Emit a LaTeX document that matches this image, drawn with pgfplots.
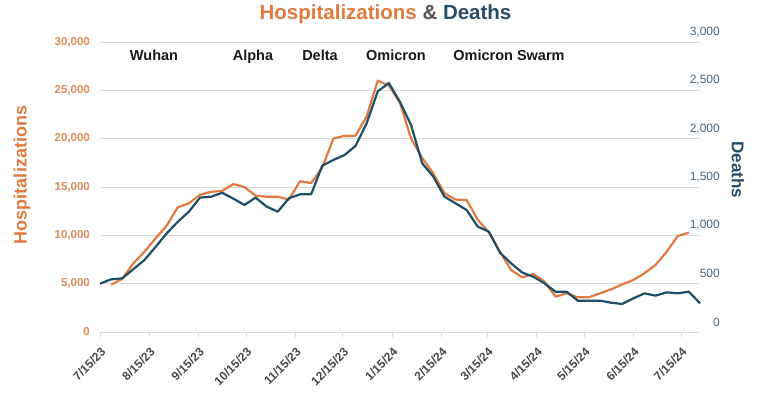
\documentclass[border=0pt]{standalone}
\usepackage{fontspec}
\setmainfont{Liberation Sans}
\usepackage{pgfplots}
\pgfplotsset{compat=1.18}
\usepackage{pgfplotstable}
\definecolor{hosp}{RGB}{224,122,63}
\definecolor{hosplab}{RGB}{217,138,92}
\definecolor{death}{RGB}{31,78,104}
\definecolor{deathtitle}{RGB}{43,76,102}
\definecolor{deathlab}{RGB}{77,100,120}
\definecolor{gridc}{RGB}{217,217,217}
\definecolor{amp}{RGB}{85,85,85}

\pgfplotstableread{
day deaths
0 500
7 545
14 555
21 650
28 745
35 880
42 1020
49 1140
56 1245
63 1390
70 1400
77 1440
84 1380
91 1314
98 1390
105 1297
112 1245
119 1383
126 1424
133 1424
140 1720
147 1780
154 1830
161 1925
168 2160
175 2490
182 2575
189 2380
196 2140
203 1745
210 1607
217 1400
224 1331
231 1262
238 1090
245 1038
252 820
259 710
266 615
273 572
280 503
287 417
294 417
301 324
308 324
315 324
322 303
329 290
336 348
343 400
350 376
357 410
364 400
371 417
378 297
}\deathtab

\pgfplotstableread{
day hosp
7 4900
14 5500
21 7100
28 8300
35 9690
42 11000
49 12900
56 13310
63 14200
70 14500
77 14600
84 15300
91 15000
98 14100
105 14000
112 14000
119 13700
126 15600
133 15400
140 17000
147 20000
154 20300
161 20300
168 22300
175 26000
182 25500
189 23700
196 20000
203 18000
210 16400
217 14350
224 13700
231 13650
238 11600
245 10300
252 8310
259 6414
266 5650
273 6000
280 5207
287 3655
294 4000
301 3586
308 3586
315 4000
322 4414
329 4931
336 5379
343 6069
350 6931
357 8310
364 9931
371 10276
}\hosptab

\begin{document}
\begin{tikzpicture}[x=1pt,y=1pt]
\useasboundingbox (0,0) rectangle (769,397);
\begin{axis}[
  at={(100pt,65pt)}, anchor=south west,
  scale only axis, width=600pt, height=290pt,
  xmin=0, xmax=378, ymin=0, ymax=30000,
  axis y line*=left, axis x line*=bottom,
  y axis line style={draw=none},
  x axis line style={draw=gridc, line width=0.8pt},
  xtick={0,31,62,92,123,153,184,215,244,275,305,336,366},
  xticklabels={7/15/23,8/15/23,9/15/23,10/15/23,11/15/23,12/15/23,1/15/24,2/15/24,3/15/24,4/15/24,5/15/24,6/15/24,7/15/24},
  xtick style={draw=gridc, line width=0.8pt},
  tick align=outside, major tick length=5pt,
  xticklabel style={xshift=3.5pt, yshift=-13pt, rotate=45, anchor=east, inner sep=0pt, font=\fontsize{12}{14}\selectfont\bfseries, text=black!72},
  ytick={0,5000,10000,15000,20000,25000,30000},
  ymajorgrids, grid style={draw=gridc, line width=0.8pt},
  ytick style={draw=none},
  scaled y ticks=false,
  /pgf/number format/assume math mode=true,
  /pgf/number format/1000 sep={,},
  yticklabel style={anchor=east, inner sep=0pt, xshift=-5pt, font=\fontsize{11.5}{13}\selectfont\bfseries, text=hosplab},
  clip=false,
]
\addplot[hosp, line width=2.2pt, line join=round] table[x=day, y=hosp] {\hosptab};
\end{axis}
\begin{axis}[
  at={(100pt,65pt)}, anchor=south west,
  scale only axis, width=600pt, height=290pt,
  xmin=0, xmax=378, ymin=0, ymax=3000,
  axis y line*=right, axis x line=none,
  y axis line style={draw=none},
  ytick={0,500,1000,1500,2000,2500,3000},
  ytick style={draw=none},
  scaled y ticks=false,
  /pgf/number format/assume math mode=true,
  /pgf/number format/1000 sep={,},
  yticklabel style={anchor=east, inner sep=0pt, xshift=20pt, yshift=10pt, font=\fontsize{12}{14}\selectfont, text=deathlab},
  clip=false,
]
\addplot[death, line width=2.2pt, line join=round] table[x=day, y=deaths] {\deathtab};
\end{axis}
% title
\node[font=\fontsize{20.5}{24}\selectfont\bfseries] at (385.5,383) {\textcolor{hosp}{Hospitalizations} \textcolor{amp}{\&} \textcolor{deathtitle}{Deaths}};
% axis titles
\node[rotate=90, font=\fontsize{18}{20}\selectfont\bfseries, text=hosp] at (22,222) {Hospitalizations};
\node[rotate=-90, font=\fontsize{17}{20}\selectfont\bfseries, text=deathtitle] at (738,227) {Deaths};
% variant labels
\begin{scope}[every node/.style={font=\fontsize{14.5}{16}\selectfont\bfseries, text=black!90, anchor=base, inner sep=0pt}]
\node at (154,336) {Wuhan};
\node at (253,336) {Alpha};
\node at (320,336) {Delta};
\node at (396,336) {Omicron};
\node at (509,336) {Omicron Swarm};
\end{scope}
\end{tikzpicture}
\end{document}
